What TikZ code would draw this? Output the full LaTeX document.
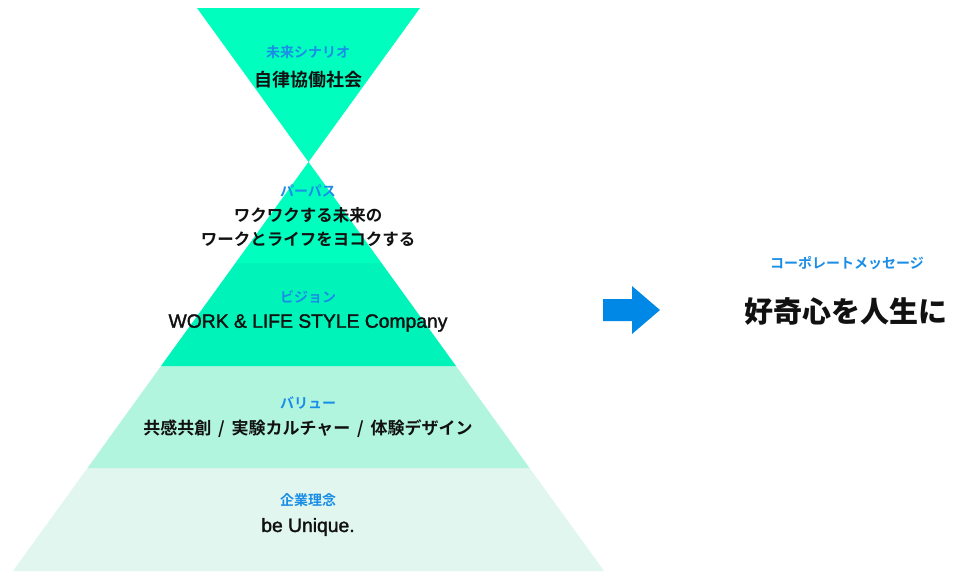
\documentclass[tikz,border=0pt]{standalone}
\usepackage{fontspec}
\setmainfont{Noto Sans CJK JP}[BoldFont={Noto Sans CJK JP Bold}]
\newfontfamily\medfont{Noto Sans CJK JP Medium}
\newfontfamily\boldfont{Noto Sans CJK JP Bold}
\newfontfamily\blackfont{Noto Sans CJK JP Black}
\newfontfamily\latinmed[FakeBold=1.6]{Liberation Sans}
\definecolor{bright}{HTML}{00FFBF}
\definecolor{vision}{HTML}{00F4B9}
\definecolor{valueband}{HTML}{B2F5DF}
\definecolor{baseband}{HTML}{E0F6EE}
\definecolor{lblblue}{HTML}{1A8DE6}
\definecolor{arrowblue}{HTML}{0088E6}
\definecolor{ink}{HTML}{111111}
\begin{document}
\begin{tikzpicture}[x=1pt,y=-1pt,
  lbl/.style={text=lblblue,font=\boldfont\fontsize{14}{16}\selectfont,inner sep=0pt,anchor=center},
  body/.style={text=ink,font=\boldfont\fontsize{16.5}{24}\selectfont,inner sep=0pt,anchor=center,align=center},
  latin/.style={text=ink,font=\latinmed\fontsize{19.3}{22}\selectfont,inner sep=0pt,anchor=center}]
\useasboundingbox (0,0) rectangle (954,571);
\fill[white] (0,0) rectangle (954,571);
% bands
\fill[baseband] (87.5,468) -- (529.5,468) -- (604,571) -- (13,571) -- cycle;
\fill[valueband] (161,366) -- (456,366) -- (529.5,468) -- (87.5,468) -- cycle;
\fill[vision] (235.5,263) -- (381.5,263) -- (456,366) -- (161,366) -- cycle;
\fill[bright] (308.5,162) -- (381.5,263) -- (235.5,263) -- cycle;
\fill[bright] (197,8) -- (420,8) -- (308.5,162) -- cycle;
% arrow
\fill[arrowblue] (603,299) -- (632,299) -- (632,286) -- (660,310) -- (632,334) -- (632,321) -- (603,321) -- cycle;
% texts
\node[lbl] (l1) at (308,52) {未来シナリオ};
\node[body,font=\boldfont\fontsize{18}{22}\selectfont] (t1) at (308,80) {自律協働社会};
\node[lbl] (l2) at (308,191) {パーパス};
\node[body] (t2) at (308,227) {ワクワクする未来の\\ワークとライフをヨコクする};
\node[lbl] (l3) at (308,297) {ビジョン};
\node[latin] (t3) at (308,323) {WORK \& LIFE STYLE Company};
\node[lbl] (l4) at (308,403) {バリュー};
\node[body,font=\boldfont\fontsize{17}{20}\selectfont] (t4) at (308,429) {共感共創\hspace{0.4em}/\hspace{0.4em}実験カルチャー\hspace{0.4em}/\hspace{0.4em}体験デザイン};
\node[lbl] (l5) at (308,500) {企業理念};
\node[latin] (t5) at (308,527) {be Unique.};
\node[lbl] (l6) at (847,263) {コーポレートメッセージ};
\node[body,font=\blackfont\fontsize{29}{32}\selectfont] (t6) at (845.5,312) {好奇心を人生に};
\end{tikzpicture}
\end{document}
